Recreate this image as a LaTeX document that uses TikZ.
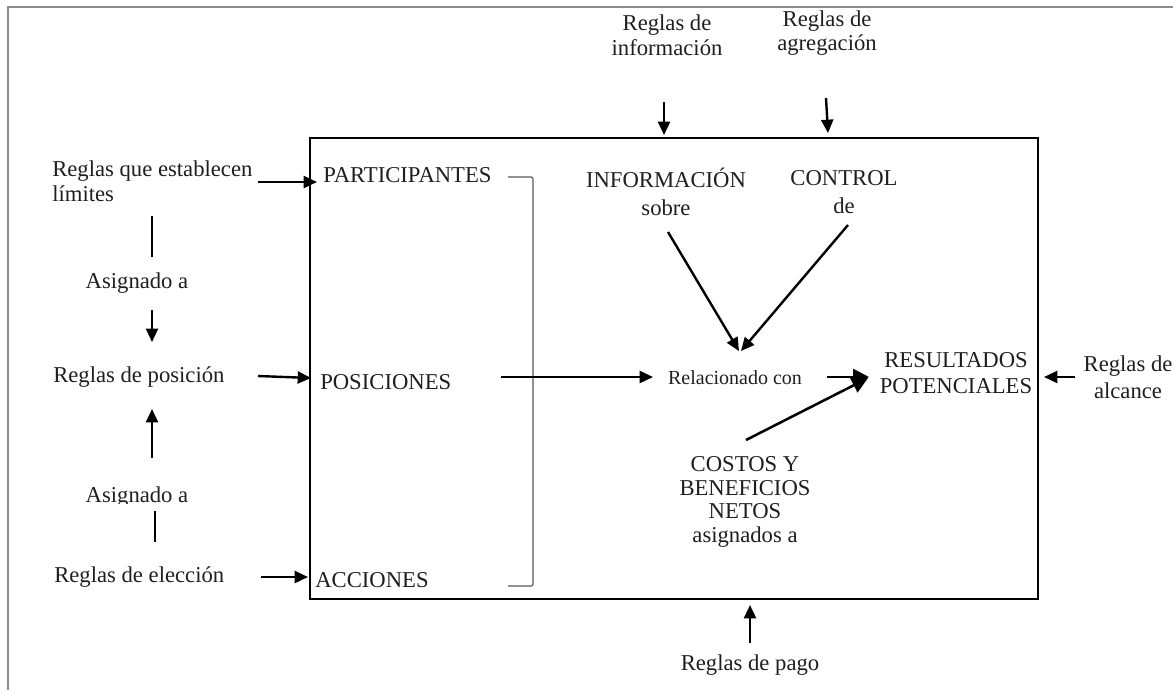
\documentclass[tikz,border=0pt]{standalone}
\usepackage{fontspec}
\setmainfont{Liberation Serif}
\usetikzlibrary{arrows.meta}
\tikzset{
  lbl/.style={inner sep=0pt, font=\fontsize{17}{18.5}\selectfont, text=black!88},
  arr/.style={line width=1.8pt, -{Triangle[length=10pt,width=9pt]}},
  bigarr/.style={line width=1.9pt, -{Triangle[length=12pt,width=12pt]}},
  plain/.style={line width=1.8pt},
  frame/.style={draw=black!45, line width=1.5pt},
  bracket/.style={draw=black!65, line width=0.9pt, rounded corners=1.5pt},
}
\begin{document}
\begin{tikzpicture}[x=0.75pt, y=-0.75pt]
\useasboundingbox (0,0) rectangle (1173,690);
\fill[white] (0,0) rectangle (1173,690);
% outer gray frame (top and left edges)
\draw[frame] (8,690) -- (8,7) -- (1173,7);
% main box
\draw[line width=2pt] (310,138) rectangle (1038,599);
% bracket
\draw[bracket] (508,177) -- (533,177) -- (533,586) -- (508,586);

% top texts
\node[lbl, align=center] (rinfo) at (667,35) {Reglas de\\información};
\node[lbl, align=center] (ragr) at (827,33) {Reglas de\\agregación};
\coordinate (rinfoA) at (664,102); \coordinate (rinfoB) at (664,135);
\coordinate (ragrA) at (826,98); \coordinate (ragrB) at (828,133);
\draw[arr] (rinfoA) -- (rinfoB);
\draw[arr] (ragrA) -- (ragrB);

% left column
\node[lbl, anchor=west, align=left] (rql) at (52,181) {Reglas que establecen\\límites};
\node[lbl] (asig1) at (137,283) {Asignado a};
\node[lbl, anchor=west] (rpos) at (53,377) {Reglas de posición};
\begin{scope}
\clip (60,470) rectangle (230,503);
\node[lbl] (asig2) at (137,497) {Asignado a};
\end{scope}
\node[lbl, anchor=west] (relec) at (54,577) {Reglas de elección};

\coordinate (l1a) at (152,216); \coordinate (l1b) at (152,257);
\coordinate (a1a) at (152,310); \coordinate (a1b) at (152,342);
\coordinate (a2a) at (152,458); \coordinate (a2b) at (152,409);
\coordinate (l2a) at (155,511); \coordinate (l2b) at (155,542);
\draw[plain] (l1a) -- (l1b);
\draw[arr] (a1a) -- (a1b);
\draw[arr] (a2a) -- (a2b);
\draw[plain] (l2a) -- (l2b);

% inside box, left
\node[lbl, anchor=west] (part) at (323,175) {PARTICIPANTES};
\node[lbl, anchor=west] (posi) at (320,382) {POSICIONES};
\node[lbl, anchor=west] (acci) at (315,580) {ACCIONES};

\coordinate (p1) at (258,182); \coordinate (p2) at (317,182);
\coordinate (q1) at (258,376); \coordinate (q2) at (311,378);
\coordinate (r1) at (261,577); \coordinate (r2) at (308,577);
\draw[arr] (p1) -- (p2);
\draw[arr] (q1) -- (q2);
\draw[arr] (r1) -- (r2);

% centre
\node[lbl, align=center, font=\fontsize{17}{21}\selectfont] (info) at (666,192) {INFORMACIÓN\\sobre};
\node[lbl, align=center, font=\fontsize{17}{21}\selectfont] (ctrl) at (844,192) {CONTROL\\de};
\node[lbl, font=\fontsize{15}{17}\selectfont] (rel) at (735,378) {Relacionado con};
\node[lbl, align=center, font=\fontsize{17}{19.5}\selectfont] (res) at (956,373) {RESULTADOS\\POTENCIALES};
\node[lbl, align=center, font=\fontsize{17}{20}\selectfont] (alc) at (1128,377) {Reglas de\\alcance};
\node[lbl, align=center, font=\fontsize{17}{17.8}\selectfont] (cost) at (745,502) {COSTOS Y\\BENEFICIOS\\NETOS\\asignados a};
\node[lbl] (pago) at (750,665) {Reglas de pago};

\coordinate (i1) at (668,232); \coordinate (i2) at (739,351);
\coordinate (c1) at (848,225); \coordinate (c2) at (741,351);
\coordinate (h1) at (501,377); \coordinate (h2) at (653,377);
\coordinate (g1) at (827,377); \coordinate (g2) at (869,377);
\coordinate (k1) at (746,440); \coordinate (k2) at (868,378);
\coordinate (al1) at (1075,377); \coordinate (al2) at (1044,377);
\coordinate (pg1) at (750,643); \coordinate (pg2) at (750,605);
\draw[arr] (i1) -- (i2);
\draw[arr] (c1) -- (c2);
\draw[arr] (h1) -- (h2);
\draw[bigarr] (g1) -- (g2);
\draw[bigarr] (k1) -- (k2);
\draw[arr] (al1) -- (al2);
\draw[arr] (pg1) -- (pg2);
\end{tikzpicture}
\end{document}
